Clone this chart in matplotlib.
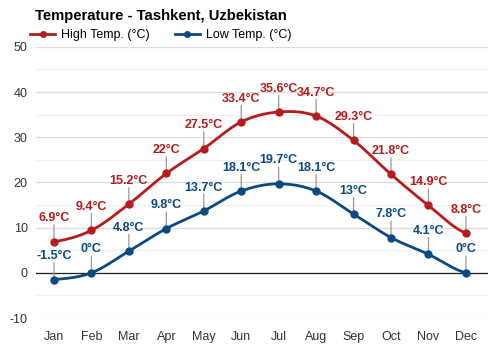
import numpy as np
import matplotlib
matplotlib.use('Agg')
import matplotlib.pyplot as plt
from matplotlib.lines import Line2D

plt.rcParams['font.family'] = ['Liberation Sans', 'DejaVu Sans']
plt.rcParams['axes.unicode_minus'] = False

months = ['Jan', 'Feb', 'Mar', 'Apr', 'May', 'Jun', 'Jul', 'Aug', 'Sep', 'Oct', 'Nov', 'Dec']
high = [6.9, 9.4, 15.2, 22, 27.5, 33.4, 35.6, 34.7, 29.3, 21.8, 14.9, 8.8]
low = [-1.5, 0, 4.8, 9.8, 13.7, 18.1, 19.7, 18.1, 13, 7.8, 4.1, 0]

red = '#b71c1c'
blue = '#0b4a80'


def smooth(xs, ys, n=20):
    # cubic hermite with catmull-rom style tangents, for the curved line only
    xs = np.asarray(xs, float)
    ys = np.asarray(ys, float)
    m = np.zeros_like(ys)
    m[1:-1] = (ys[2:] - ys[:-2]) / 2
    m[0] = (ys[1] - ys[0]) * 0.5
    m[-1] = (ys[-1] - ys[-2]) * 0.5
    px, py = [], []
    for i in range(len(xs) - 1):
        t = np.linspace(0, 1, n, endpoint=False)
        h00 = 2 * t**3 - 3 * t**2 + 1
        h10 = t**3 - 2 * t**2 + t
        h01 = -2 * t**3 + 3 * t**2
        h11 = t**3 - t**2
        px.extend(xs[i] + t)
        py.extend(h00 * ys[i] + h10 * m[i] + h01 * ys[i + 1] + h11 * m[i + 1])
    px.append(xs[-1])
    py.append(ys[-1])
    return px, py


x = np.arange(len(months))

fig = plt.figure(figsize=(5, 3.5), dpi=100)
ax = fig.add_axes([0.072, 0.0914, 0.904, 0.7746])

for v in range(-10, 51, 10):
    ax.axhline(v, color='#dddddd', lw=0.9, zorder=0)
for v in range(-5, 50, 10):
    ax.axhline(v, color='#f0f0f0', lw=0.9, zorder=0)
ax.axhline(0, color='#222222', lw=0.9, zorder=1)

for vals, col in [(high, red), (low, blue)]:
    sx, sy = smooth(x, vals)
    ax.plot(sx, sy, color=col, lw=2, zorder=3)
    ax.plot(x, vals, 'o', color=col, ms=5, zorder=4)
    for xi, v in zip(x, vals):
        ax.annotate('', xy=(xi, v), xytext=(0, 12), textcoords='offset points',
                    arrowprops=dict(arrowstyle='-', color='#999999', lw=0.9,
                                    shrinkA=0, shrinkB=0), zorder=2)
        ax.annotate(f'{v:g}°C', xy=(xi, v), xytext=(0, 12.5), textcoords='offset points',
                    ha='center', va='bottom', color=col, fontsize=9,
                    fontweight='bold', zorder=5)

ax.set_xlim(-0.48, 11.59)
ax.set_ylim(-10, 50)
ax.set_xticks(x)
ax.set_xticklabels(months)
ax.set_yticks(range(-10, 51, 10))
ax.tick_params(length=0, labelsize=9, labelcolor='#333333')
ax.tick_params(axis='x', pad=9)
ax.tick_params(axis='y', pad=6)
for s in ax.spines.values():
    s.set_visible(False)

fig.text(0.07, 0.955, 'Temperature - Tashkent, Uzbekistan', fontsize=10.7,
         fontweight='bold', ha='left', va='center')
handles = [Line2D([0], [0], color=red, lw=2, marker='o', ms=4),
           Line2D([0], [0], color=blue, lw=2, marker='o', ms=4)]
fig.legend(handles, ['High Temp. (°C)', 'Low Temp. (°C)'], loc='center left',
           bbox_to_anchor=(0.055, 0.9), ncol=2, frameon=False, fontsize=9,
           handlelength=2.0, handletextpad=0.5, columnspacing=2.0,
           borderaxespad=0, borderpad=0.2)

fig.savefig('out.png', dpi=100)
